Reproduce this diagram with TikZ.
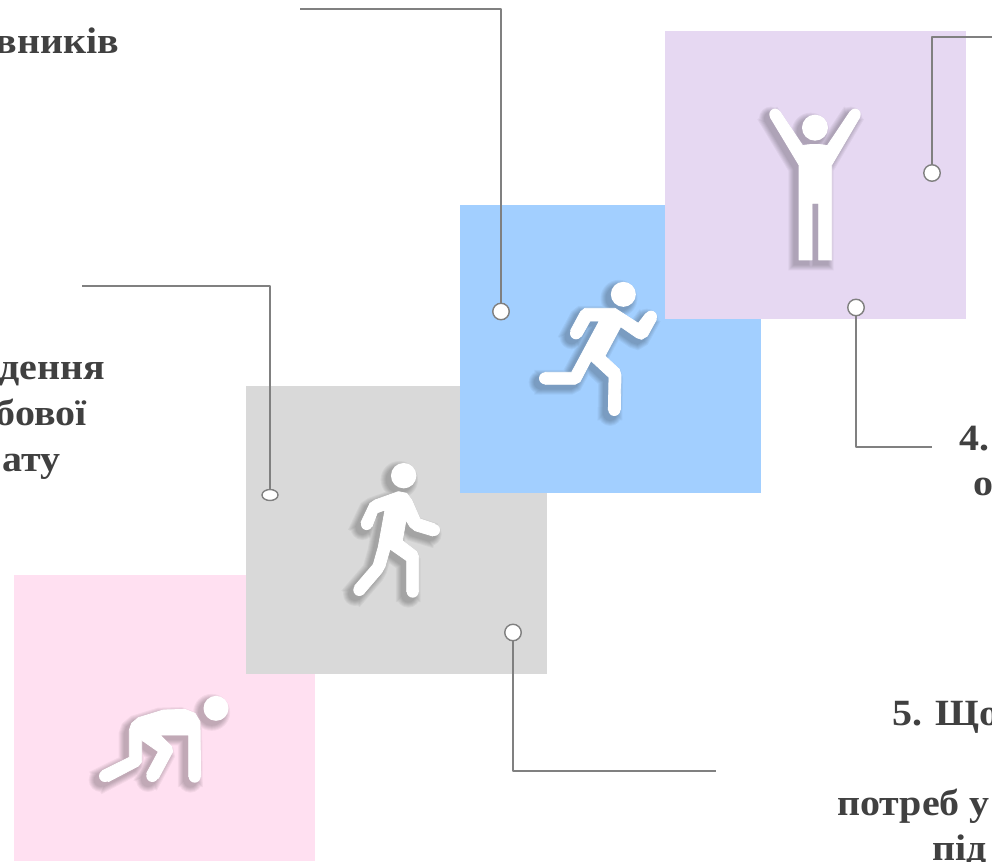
\documentclass[tikz,border=0pt]{standalone}
\usepackage{fontspec}
\setmainfont{Liberation Serif}[FakeStretch=1.08]
\usetikzlibrary{shapes.geometric}
\definecolor{txt}{HTML}{404040}
\definecolor{ln}{HTML}{808080}
\definecolor{pinkbox}{HTML}{FFE0F1}
\definecolor{greybox}{HTML}{D9D9D9}
\definecolor{bluebox}{HTML}{A2CFFF}
\definecolor{purplebox}{HTML}{E6D8F2}
\newdimen\exw
\newcommand\poly[1]{\filldraw[line width=0.8pt+\exw] #1;}
\newcommand\ball[3]{\fill (#1,#2) circle[radius=#3pt+0.5\exw];}
\newcommand\figA{%
 \ball{378}{85}{12.5}
 \poly{(118,150) -- (125,130) -- (145,113) -- (220,90) -- (285,88) -- (315,100) -- (330,125) -- (332,290) -- (296,290) -- (296,165) -- (210,165) -- (245,200) -- (248,215) -- (205,295) -- (170,280) -- (205,215) -- (155,180) -- (155,245) -- (145,258) -- (55,305) -- (37,272) -- (118,232) -- cycle}
 \ball{314}{290}{6}
 \ball{187}{288}{6}
 \ball{45}{288}{6}
}
\newcommand\figB{%
 \ball{191}{77}{12.7}
 \poly{(63,217) -- (90,160) -- (105,150) -- (175,125) -- (200,130) -- (215,150) -- (240,207) -- (285,222) -- (278,258) -- (225,242) -- (210,230) -- (198,210) -- (187,272) -- (230,305) -- (236,320) -- (236,425) -- (200,425) -- (200,332) -- (150,297) -- (135,350) -- (125,368) -- (70,432) -- (44,408) -- (100,343) -- (115,290) -- (135,180) -- (112,188) -- (96,230) -- cycle}
 \ball{80}{223}{5.7}
 \ball{282}{240}{6}
 \ball{218}{425}{6}
 \ball{58}{420}{6}
}
\newcommand\figC{%
 \ball{310}{73}{12.5}
 \poly{(152,181) -- (182,125) -- (195,115) -- (285,115) -- (355,160) -- (377,131) -- (409,149) -- (382,198) -- (365,208) -- (350,203) -- (302,170) -- (255,258) -- (298,298) -- (303,315) -- (301,420) -- (265,420) -- (267,322) -- (213,272) -- (180,335) -- (165,343) -- (75,343) -- (75,307) -- (155,307) -- (238,153) -- (210,153) -- (184,199) -- cycle}
 \ball{168}{190}{6}
 \ball{393}{140}{6}
 \ball{75}{325}{6}
 \ball{283}{420}{6}
}
\newcommand\figD{%
 \ball{225}{143}{13}
 \poly{(91,112) -- (119,94) -- (188,197) .. controls (210,192) and (240,192) .. (262,197) -- (331,94) -- (359,112) -- (275,255) -- (275,540) -- (236,540) -- (236,370) -- (216,370) -- (216,540) -- (177,540) -- (177,255) -- cycle}
 \ball{105}{103}{5.7}
 \ball{345}{103}{5.7}
}
\newcommand\person[2]{%
 \begin{scope}[shift={(#1)},x=0.33333pt,y=-0.33333pt]
 \foreach \e in {12,10,...,1}{%
  \begin{scope}[transparency group,opacity=0.045,shift={(-13,12)},black,line cap=round,line join=round]
   \global\exw=\e pt
   \path[use as bounding box] (-60,-60) rectangle (520,620);
   #2
  \end{scope}
 }
 \begin{scope}[white,line cap=round,line join=round]
  \global\exw=0pt
  #2
 \end{scope}
 \end{scope}
}
\tikzset{
 panel/.style={draw=none,inner sep=0pt,minimum width=301pt},
 conn/.style={draw=ln,line width=1.6pt,line join=round},
 dot/.style={circle,draw=ln,fill=white,line width=1.4pt,minimum size=16.5pt,inner sep=0pt},
 flatdot/.style={ellipse,draw=ln,fill=white,line width=1.4pt,minimum width=16pt,minimum height=11pt,inner sep=0pt},
 label/.style={text=txt,font=\fontsize{37}{37}\selectfont\bfseries,inner sep=0pt,anchor=base west},
 labelr/.style={text=txt,font=\fontsize{37}{37}\selectfont\bfseries,inner sep=0pt,anchor=base east}
}
\begin{document}
\begin{tikzpicture}[x=1pt,y=-1pt]
\useasboundingbox (0,0) rectangle (992,861);
\fill[white] (0,0) rectangle (992,861);
\node[panel,fill=pinkbox,minimum height=286pt,anchor=north west] (p1) at (14,575) {};
\node[panel,fill=greybox,minimum height=288pt,anchor=north west] (p2) at (246,386) {};
\node[panel,fill=bluebox,minimum height=288pt,anchor=north west] (p3) at (460,205) {};
\node[panel,fill=purplebox,minimum height=288pt,anchor=north west] (p4) at (665,31) {};

\person{90,680}{\figA}
\person{340,450}{\figB}
\person{520,270}{\figC}
\person{740,80}{\figD}

\node[dot] (d1) at (932,173) {};
\node[dot] (d2) at (501,311.5) {};
\node[dot] (d3) at (856,307.5) {};
\node[dot] (d4) at (513,632.5) {};
\node[flatdot] (d5) at (270,495) {};
\coordinate (e1) at (992,37);
\coordinate (e2) at (300,9);
\coordinate (e3) at (932,447);
\coordinate (e4) at (716,771);
\coordinate (e5) at (82,286);
\draw[conn] (d1) -- (d1 |- e1) -- (e1);
\draw[conn] (d2) -- (d2 |- e2) -- (e2);
\draw[conn] (d3) -- (d3 |- e3) -- (e3);
\draw[conn] (d4) -- (d4 |- e4) -- (e4);
\draw[conn] (d5) -- (d5 |- e5) -- (e5);

\node[labelr] (t1) at (119.5,53.5) {вників};
\node[labelr] (t2) at (105,379) {дення};
\node[labelr] (t3) at (87,425) {бової};
\node[labelr] (t4) at (61,471) {ату};
\node[label] (t5) at (959,450) {4.};
\node[label] (t6) at (973,495) {о};
\node[label] (t7) at (892,725) {5. Що};
\node[label] (t8) at (837,815) {потреб у};
\node[label] (t9) at (932,860) {під};
\end{tikzpicture}
\end{document}
